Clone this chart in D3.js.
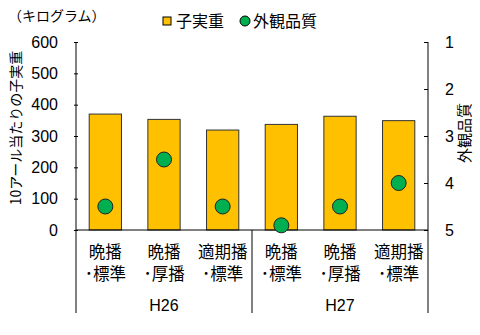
<!DOCTYPE html>
<html>
<head>
<meta charset="utf-8">
<script src="https://cdn.jsdelivr.net/npm/d3@7"></script>
<style>
  html, body { margin: 0; padding: 0; background: #fff; }
  svg { display: block; font-family: "Liberation Sans", Arial, "Noto Sans CJK JP", sans-serif; }
  text { fill: #000; }
</style>
</head>
<body>
<svg id="chart" width="480" height="335"></svg>
<script>
// Treatments (two text lines each) and the year they belong to
const line1 = ["晩播", "晩播", "適期播", "晩播", "晩播", "適期播"];
const line2 = ["･標準", "･厚播", "･標準", "･標準", "･厚播", "･標準"];
const years = ["H26", "H27"];
const yearOf = [0, 0, 0, 1, 1, 1];

// Grain weight per 10 a (kg) and appearance grade (1 best – 5 worst)
const grainWeight = [370, 353, 319, 337, 363, 349];
const appearance = [4.5, 3.5, 4.5, 4.9, 4.5, 4.0];

const leftTicks = [0, 100, 200, 300, 400, 500, 600];
const rightTicks = [1, 2, 3, 4, 5];

const svg = d3.select("#chart");
const m = { left: 76, right: 428, top: 42, bottom: 230 };

const idx = d3.range(line1.length);
const x = d3.scaleBand().domain(idx).range([m.left, m.right]).paddingInner(0.45).paddingOuter(0.225);
const yL = d3.scaleLinear().domain([0, 600]).range([m.bottom, m.top]);
const yR = d3.scaleLinear().domain([1, 5]).range([m.top, m.bottom]);

// Bars
svg.append("g").selectAll("rect").data(idx).join("rect")
  .attr("x", i => x(i))
  .attr("y", i => yL(grainWeight[i]))
  .attr("width", x.bandwidth())
  .attr("height", i => yL(0) - yL(grainWeight[i]))
  .attr("fill", "#FFC000")
  .attr("stroke", "#333")
  .attr("stroke-width", 1);

// Left axis
const gL = svg.append("g").attr("transform", `translate(${m.left},0)`)
  .call(d3.axisLeft(yL).tickValues(leftTicks).tickSize(2).tickPadding(16));
gL.selectAll(".tick line").attr("x2", -2).attr("x1", 2).attr("stroke", "#000");
gL.select(".domain").attr("d", `M0,${m.top}V${m.bottom}`).attr("stroke", "#000");
gL.selectAll("text").attr("font-size", 16).attr("font-family", "Liberation Sans, Arial");

// Right axis
const gR = svg.append("g").attr("transform", `translate(${m.right},0)`)
  .call(d3.axisRight(yR).tickValues(rightTicks).tickFormat(d3.format("d")).tickSize(-4).tickPadding(17));
gR.select(".domain").attr("d", `M0,${m.top}V${m.bottom}`).attr("stroke", "#000");
gR.selectAll(".tick line").attr("stroke", "#000");
gR.selectAll("text").attr("font-size", 16).attr("font-family", "Liberation Sans, Arial");

// Baseline and group separators
svg.append("line").attr("x1", m.left).attr("x2", m.right)
  .attr("y1", m.bottom).attr("y2", m.bottom).attr("stroke", "#000");
const sepX = [m.left, (x(2) + x.bandwidth() + x(3)) / 2, m.right];
svg.append("g").selectAll("line").data(sepX).join("line")
  .attr("x1", d => d).attr("x2", d => d)
  .attr("y1", m.bottom).attr("y2", 313)
  .attr("stroke", "#000");

// Appearance markers
svg.append("g").selectAll("circle").data(idx).join("circle")
  .attr("cx", i => x(i) + x.bandwidth() / 2)
  .attr("cy", i => yR(appearance[i]))
  .attr("r", 7.5)
  .attr("fill", "#00B050")
  .attr("stroke", "#222")
  .attr("stroke-width", 1);

// Category labels
const cat = svg.append("g").attr("font-size", 16.5).attr("text-anchor", "middle")
  .attr("font-family", "Noto Sans CJK JP");
cat.selectAll("text.l1").data(idx).join("text").attr("class", "l1")
  .attr("x", i => x(i) + x.bandwidth() / 2).attr("y", 258).text(i => line1[i]);
cat.selectAll("text.l2").data(idx).join("text").attr("class", "l2")
  .attr("x", i => x(i) + x.bandwidth() / 2).attr("y", 280).text(i => line2[i]);

// Year labels
svg.append("g").selectAll("text").data(years).join("text")
  .attr("x", (d, j) => {
    const members = idx.filter(i => yearOf[i] === j);
    return (x(members[0]) + x(members[members.length - 1]) + x.bandwidth()) / 2;
  })
  .attr("y", 311).attr("font-size", 16).attr("text-anchor", "middle")
  .attr("font-family", "Liberation Sans, Arial")
  .text(d => d);

// Unit and axis titles
svg.append("text").attr("x", 8).attr("y", 21).attr("font-size", 14)
  .attr("font-family", "Noto Sans CJK JP").text("（キログラム）");
svg.append("text").attr("transform", "translate(21,128) rotate(-90)")
  .attr("text-anchor", "middle").attr("font-size", 14)
  .attr("font-family", "Noto Sans CJK JP").text("10アール当たりの子実重");
svg.append("text").attr("transform", "translate(470,133) rotate(-90)")
  .attr("text-anchor", "middle").attr("font-size", 15)
  .attr("font-family", "Noto Sans CJK JP").text("外観品質");

// Legend
const lg = svg.append("g").attr("font-size", 16).attr("font-family", "Noto Sans CJK JP");
lg.append("rect").attr("x", 163).attr("y", 17).attr("width", 8).attr("height", 8)
  .attr("fill", "#FFC000").attr("stroke", "#000");
lg.append("text").attr("x", 176).attr("y", 27).text("子実重");
lg.append("circle").attr("cx", 245).attr("cy", 21).attr("r", 5)
  .attr("fill", "#00B050").attr("stroke", "#000");
lg.append("text").attr("x", 253).attr("y", 27).text("外観品質");
</script>
</body>
</html>
